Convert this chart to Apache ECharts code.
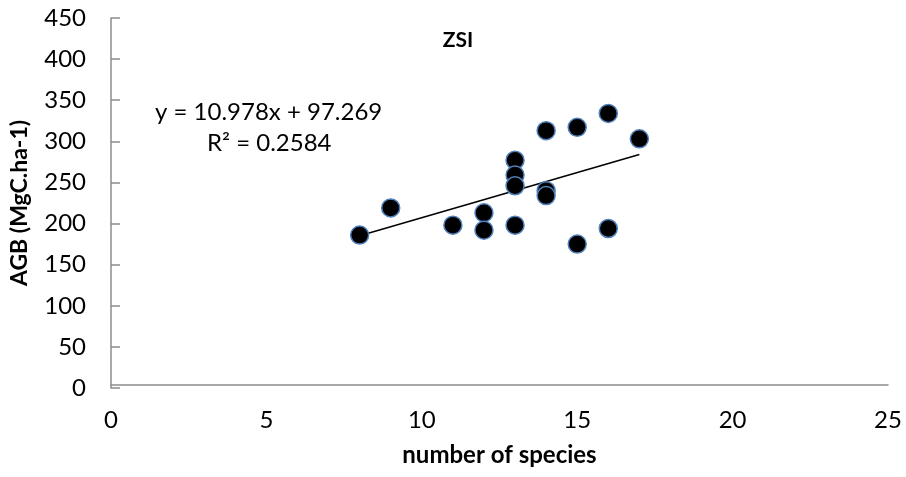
<!DOCTYPE html>
<html>
<head>
<meta charset="utf-8">
<script src="https://cdn.jsdelivr.net/npm/echarts@6/dist/echarts.min.js"></script>
<style>
html,body{margin:0;padding:0;background:#fff;}
#chart{width:906px;height:477px;}
</style>
</head>
<body>
<div id="chart"></div>
<script>
// Data
const speciesCount = [8, 9, 11, 12, 12, 13, 13, 13, 13, 14, 14, 14, 15, 15, 16, 16, 17];
const agbValues    = [186, 219, 198, 213, 192, 277, 259, 246, 198, 240, 234, 313, 317, 175, 334, 194, 303];
const trendSlope = 10.978;
const trendIntercept = 97.269;
const trendRange = [8, 17];
const chartTitle = 'ZSI';
const xAxisName = 'number of species';
const yAxisName = 'AGB (MgC.ha-1)';
const equationText = 'y = 10.978x + 97.269';
const r2Text = 'R² = 0.2584';

const FONT = 'Lato, "Open Sans", sans-serif';
const scatterData = speciesCount.map((x, i) => [x, agbValues[i]]);
const trendData = trendRange.map(x => [x, trendSlope * x + trendIntercept]);

const chart = echarts.init(document.getElementById('chart'), null, {renderer: 'canvas'});
chart.setOption({
  animation: false,
  backgroundColor: '#ffffff',
  grid: {left: 111, right: 18, top: 18, bottom: 89, containLabel: false},
  title: {
    text: chartTitle,
    left: 453, top: 25, textAlign: 'center',
    textStyle: {fontFamily: FONT, fontSize: 21, fontWeight: 'bold', color: '#000'}
  },
  xAxis: {
    type: 'value', min: 0, max: 25, interval: 5,
    offset: -3,
    name: xAxisName, nameLocation: 'middle', nameGap: 58,
    nameTextStyle: {fontFamily: FONT, fontSize: 24, fontWeight: 'bold', color: '#000'},
    axisLine: {show: true, lineStyle: {color: '#8c8c8c', width: 1.5}},
    axisTick: {show: false},
    splitLine: {show: false},
    axisLabel: {fontFamily: FONT, fontSize: 24, color: '#000', margin: 23}
  },
  yAxis: {
    type: 'value', min: 0, max: 450, interval: 50,
    name: yAxisName, nameLocation: 'middle', nameGap: 80, nameRotate: 90,
    nameTextStyle: {fontFamily: FONT, fontSize: 23, fontWeight: 'bold', color: '#000'},
    axisLine: {show: true, lineStyle: {color: '#8c8c8c', width: 1.5}},
    axisTick: {show: true, inside: true, length: 9, lineStyle: {color: '#8c8c8c', width: 1.5}},
    splitLine: {show: false},
    axisLabel: {fontFamily: FONT, fontSize: 24, color: '#000', margin: 25}
  },
  graphic: [
    {type: 'text', left: 155, top: 100, style: {text: equationText, font: '24px ' + FONT, fill: '#000'}},
    {type: 'text', left: 207, top: 131, style: {text: r2Text, font: '24px ' + FONT, fill: '#000'}}
  ],
  series: [
    {
      type: 'line', data: trendData, symbol: 'none', silent: true,
      lineStyle: {color: '#000', width: 1.5}, z: 1
    },
    {
      type: 'scatter', data: scatterData, symbol: 'circle', symbolSize: 18,
      itemStyle: {color: '#000', borderColor: '#4F81BD', borderWidth: 1.5, opacity: 1}, z: 2
    }
  ]
});
</script>
</body>
</html>
